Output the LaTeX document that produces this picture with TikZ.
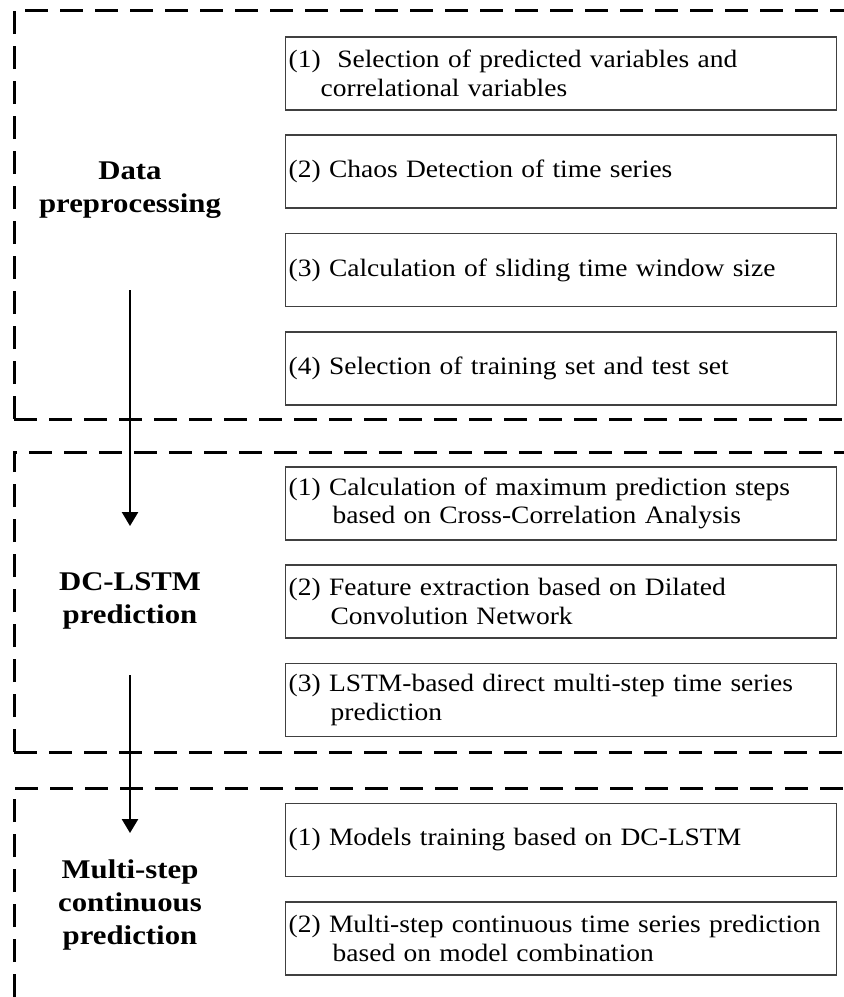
\documentclass[tikz,border=0pt]{standalone}
\usepackage{fontspec}
\setmainfont{Liberation Serif}[FakeStretch=1.1]
\newfontfamily\lblfont{Liberation Serif}[FakeStretch=1.14]
\usetikzlibrary{arrows.meta}
\begin{document}
\begin{tikzpicture}[x=1pt,y=-1pt,
  frame/.style={line width=3pt, dash pattern=on 23pt off 12pt},
  stepbox/.style={draw=black!75, line width=1.3pt, rectangle, anchor=west,
    minimum width=551pt, minimum height=73pt, text width=545pt, inner xsep=3pt,
    align=left, font=\fontsize{25}{28.5}\selectfont},
  lbl/.style={font=\lblfont\bfseries\fontsize{27}{33}\selectfont, align=center},
  arr/.style={line width=2.5pt, -{Triangle[length=14pt,width=16pt]}}]
\useasboundingbox (0,0) rectangle (844,997);
% section frames (open on the right)
\draw[frame] (14,419) -- (14,10) -- (844,10);
\draw[frame] (14,419) -- (844,419);
\draw[frame] (14,752) -- (14,452) -- (844,452);
\draw[frame] (14,752) -- (844,752);
\draw[frame] (14,997) -- (14,788) -- (844,788);
% step boxes
\node[stepbox] (b1) at (285,73.5) {(1)\ \ Selection of predicted variables and\\\hspace*{32pt}correlational variables};
\node[stepbox] (b2) at (285,171.5) {(2) Chaos Detection of time series};
\node[stepbox] (b3) at (285,270) {(3) Calculation of sliding time window size};
\node[stepbox] (b4) at (285,368.5) {(4) Selection of training set and test set};
\node[stepbox] (b5) at (285,503.5) {(1) Calculation of maximum prediction steps\\\hspace*{44pt}based on Cross-Correlation Analysis};
\node[stepbox] (b6) at (285,601.5) {(2) Feature extraction based on Dilated\\\hspace*{42pt}Convolution Network};
\node[stepbox] (b7) at (285,700) {(3) LSTM-based direct multi-step time series\\\hspace*{42pt}prediction};
\node[stepbox] (b8) at (285,840) {(1) Models training based on DC-LSTM};
\node[stepbox] (b9) at (285,938.5) {(2) Multi-step continuous time series prediction\\\hspace*{44pt}based on model combination};
% stage labels
\node[lbl] (l1) at (130,190) {Data\\preprocessing};
\node[lbl] (l2) at (130,601) {DC-LSTM\\prediction};
\node[lbl] (l3) at (130,905) {Multi-step\\continuous\\prediction};
% arrows
\coordinate (a1s) at (130,290);
\coordinate (a1e) at (130,526);
\coordinate (a2s) at (130,675);
\coordinate (a2e) at (130,833);
\draw[arr] (a1s) -- (a1e);
\draw[arr] (a2s) -- (a2e);
\end{tikzpicture}
\end{document}
